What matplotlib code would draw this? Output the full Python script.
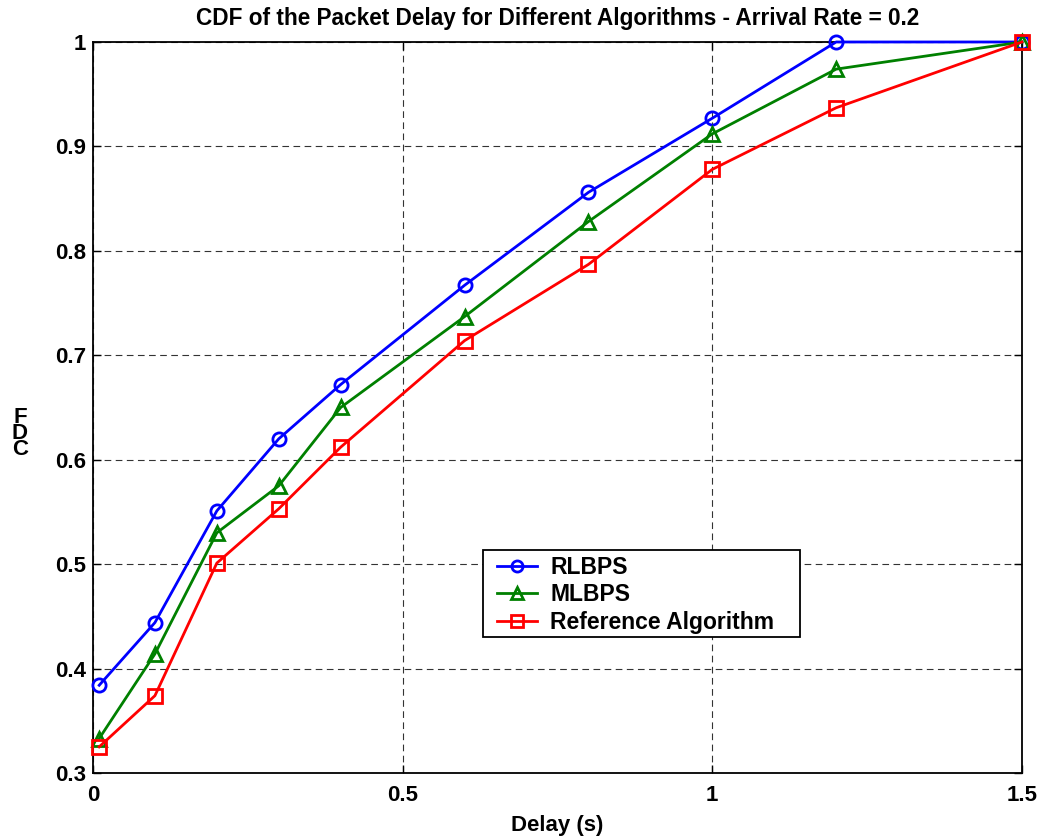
import matplotlib
matplotlib.use("Agg")
import matplotlib.pyplot as plt
from matplotlib.patches import Rectangle

delay = [0.01, 0.1, 0.2, 0.3, 0.4, 0.6, 0.8, 1.0, 1.2, 1.5]
rlbps = [0.384, 0.444, 0.551, 0.620, 0.672, 0.767, 0.856, 0.927, 1.0, 1.0]
mlbps = [0.333, 0.414, 0.530, 0.575, 0.650, 0.737, 0.828, 0.912, 0.974, 1.0]
refalg = [0.325, 0.374, 0.501, 0.553, 0.612, 0.714, 0.787, 0.878, 0.937, 1.0]
labels = ["RLBPS", "MLBPS", "Reference Algorithm"]
xticks = [0, 0.5, 1, 1.5]
xticklabels = ["0", "0.5", "1", "1.5"]
yticks = [0.3, 0.4, 0.5, 0.6, 0.7, 0.8, 0.9, 1.0]
yticklabels = ["0.3", "0.4", "0.5", "0.6", "0.7", "0.8", "0.9", "1"]

plt.rcParams['font.family'] = ['Liberation Sans', 'DejaVu Sans']
plt.rcParams['font.weight'] = 'bold'

fig = plt.figure(figsize=(10.46, 8.38), dpi=100)
ax = fig.add_axes([0.0889, 0.0776, 0.8881, 0.8723])

ax.plot(delay, rlbps, color='#0000ff', lw=2, marker='o', ms=9.5, mfc='none', mew=2,
        label=labels[0], clip_on=False, zorder=3)
ax.plot(delay, mlbps, color='#008000', lw=2, marker='^', ms=9.5, mfc='none', mew=2,
        label=labels[1], clip_on=False, zorder=3)
ax.plot(delay, refalg, color='#ff0000', lw=2, marker='s', ms=9.5, mfc='none', mew=2,
        label=labels[2], clip_on=False, zorder=3)

ax.set_xlim(0, 1.5)
ax.set_ylim(0.3, 1.0)
ax.set_xticks(xticks)
ax.set_xticklabels(xticklabels)
ax.set_yticks(yticks)
ax.set_yticklabels(yticklabels)
ax.tick_params(direction='in', top=True, right=True, length=6, width=1, labelsize=16)
ax.tick_params(axis='x', pad=9)
ax.tick_params(axis='y', pad=5)
for lab in ax.get_xticklabels() + ax.get_yticklabels():
    lab.set_fontweight('bold')
for s in ax.spines.values():
    s.set_linewidth(1.3)
ax.grid(True, color='#333333', linestyle=(0, (6, 4)), linewidth=0.8)

ax.set_title("CDF of the Packet Delay for Different Algorithms - Arrival Rate = 0.2",
             fontsize=16.3, fontweight='bold', pad=12)
ax.set_xlabel("Delay (s)", fontsize=16, fontweight='bold', labelpad=6)
fig.text(0.019, 0.483, "F\nD\nC", fontsize=16, fontweight='bold', ha='center', va='center',
         linespacing=0.68)

# legend frame box (MATLAB style) and legend entries
ax.add_patch(Rectangle((0.4198, 0.186), 0.761 - 0.4198, 0.305 - 0.186, transform=ax.transAxes,
                       facecolor='white', edgecolor='black', linewidth=1.3, zorder=4))
leg = ax.legend(loc='center left', bbox_to_anchor=(0.4349, 0.2435), fontsize=16.5, frameon=False,
                borderpad=0, labelspacing=0.19, handlelength=1.75, handletextpad=0.57,
                borderaxespad=0)
leg.set_zorder(5)
for t in leg.get_texts():
    t.set_fontweight('bold')
for h in leg.legend_handles:
    h.set_markersize(8)

fig.savefig("out.png", dpi=100)
